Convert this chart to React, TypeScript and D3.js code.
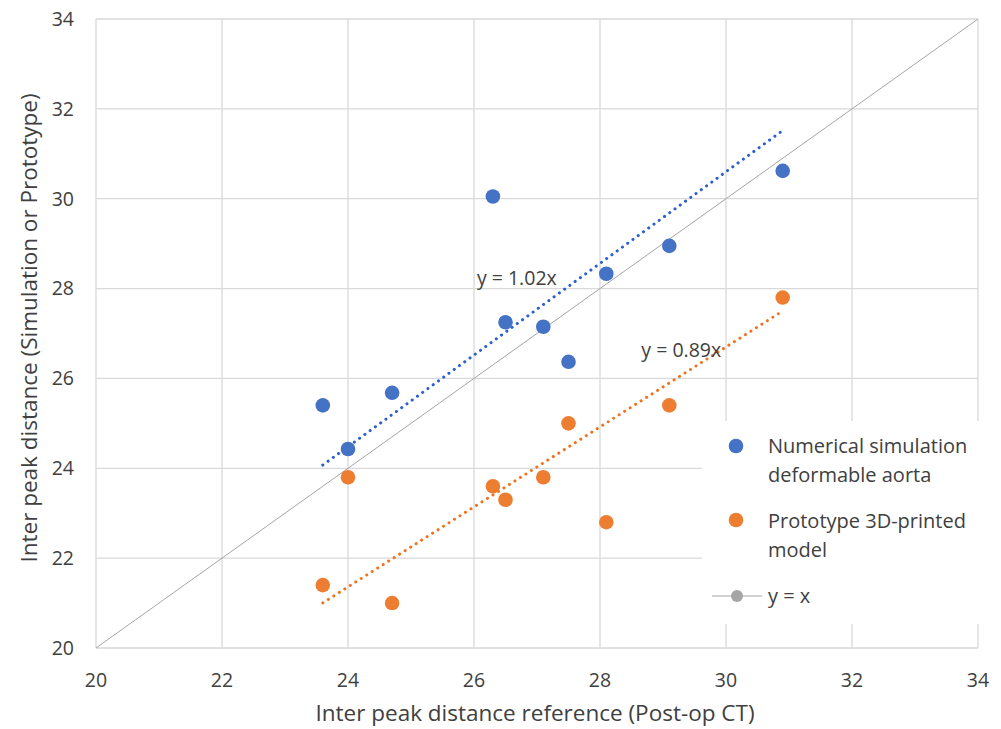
import React from 'react'
import * as d3 from 'd3'

// reference distance (post-op CT), shared by both series
const xValues = [23.6, 24.0, 24.7, 26.3, 26.5, 27.1, 27.5, 28.1, 29.1, 30.9]
const simValues = [25.4, 24.43, 25.68, 30.05, 27.25, 27.15, 26.37, 28.33, 28.95, 30.62]
const protoValues = [21.4, 23.8, 21.0, 23.6, 23.3, 23.8, 25.0, 22.8, 25.4, 27.8]
const trendSlopes = [1.02, 0.89]
const ticks = [20, 22, 24, 26, 28, 30, 32, 34]

const W = 1001
const H = 729
const margin = { top: 19, right: 23, bottom: 81, left: 96 }
const FONT = '"Open Sans", Lato, sans-serif'

export default function App() {
    const x = d3.scaleLinear().domain([20, 34]).range([margin.left, W - margin.right])
    const y = d3.scaleLinear().domain([20, 34]).range([H - margin.bottom, margin.top])

    const series = [
        { name: 'sim', values: simValues, color: '#4472C4', trend: '#2b5fd0', slope: trendSlopes[0], label: { x: 26.68, y: 28.07 } },
        { name: 'proto', values: protoValues, color: '#ED7D31', trend: '#f0731f', slope: trendSlopes[1], label: { x: 29.29, y: 26.48 } },
    ]
    const x0 = d3.min(xValues)
    const x1 = d3.max(xValues)
    const line = d3.line().x(d => x(d[0])).y(d => y(d[1]))

    return (
        <svg width={W} height={H} style={{ position: 'absolute', left: 0, top: 0, background: '#fff' }} fontFamily={FONT}>
            {/* grid */}
            {ticks.map(t => (
                <g key={t}>
                    <line x1={x(t)} x2={x(t)} y1={y(20)} y2={y(34)} stroke="#d9d9d9" strokeWidth={1.3} />
                    <line x1={x(20)} x2={x(34)} y1={y(t)} y2={y(t)} stroke="#d9d9d9" strokeWidth={1.3} />
                </g>
            ))}
            {/* tick labels */}
            {ticks.map(t => (
                <text key={'yl' + t} x={margin.left - 22} y={y(t)} dy="0.35em" textAnchor="end" fontSize={19.5} fill="#404040">{t}</text>
            ))}
            {ticks.map(t => (
                <text key={'xl' + t} x={x(t)} y={H - margin.bottom + 32} dy="0.35em" textAnchor="middle" fontSize={19.5} fill="#404040">{t}</text>
            ))}
            {/* y = x */}
            <path d={line([[20, 20], [34, 34]])} stroke="#a5a5a5" strokeWidth={1} fill="none" />
            {/* trend lines */}
            {series.map(s => (
                <path key={s.name + 't'} d={line([[x0, s.slope * x0], [x1, s.slope * x1]])}
                    stroke={s.trend} strokeWidth={3} strokeLinecap="round" strokeDasharray="0.1 6.4" fill="none" />
            ))}
            {/* points */}
            {series.map(s => (
                <g key={s.name}>
                    {s.values.map((v, i) => (
                        <circle key={i} cx={x(xValues[i])} cy={y(v)} r={7.3} fill={s.color} />
                    ))}
                </g>
            ))}
            {series.map(s => (
                <text key={s.name + 'l'} x={x(s.label.x)} y={y(s.label.y)} fontSize={19.5} fill="#404040" textAnchor="middle">{`y = ${s.slope.toFixed(2)}x`}</text>
            ))}
            {/* legend */}
            <g fontSize={20} fill="#404040">
                <rect x={702} y={421} width={299} height={203} fill="#fff" />
                <circle cx={736} cy={446} r={7.3} fill="#4472C4" />
                <text x={768} y={453}>Numerical simulation</text>
                <text x={768} y={482}>deformable aorta</text>
                <circle cx={736} cy={520} r={7.3} fill="#ED7D31" />
                <text x={768} y={528}>Prototype 3D-printed</text>
                <text x={768} y={557}>model</text>
                <line x1={712} x2={762} y1={596} y2={596} stroke="#a5a5a5" strokeWidth={1} />
                <circle cx={737} cy={596} r={6} fill="#a5a5a5" />
                <text x={768} y={603}>y = x</text>
            </g>
            {/* axis titles */}
            <text x={535} y={721} textAnchor="middle" fontSize={22.5} fill="#404040">Inter peak distance reference (Post-op CT)</text>
            <text transform={`translate(37, 328) rotate(-90)`} textAnchor="middle" fontSize={22.5} fill="#404040">Inter peak distance (Simulation or Prototype)</text>
        </svg>
    )
}
